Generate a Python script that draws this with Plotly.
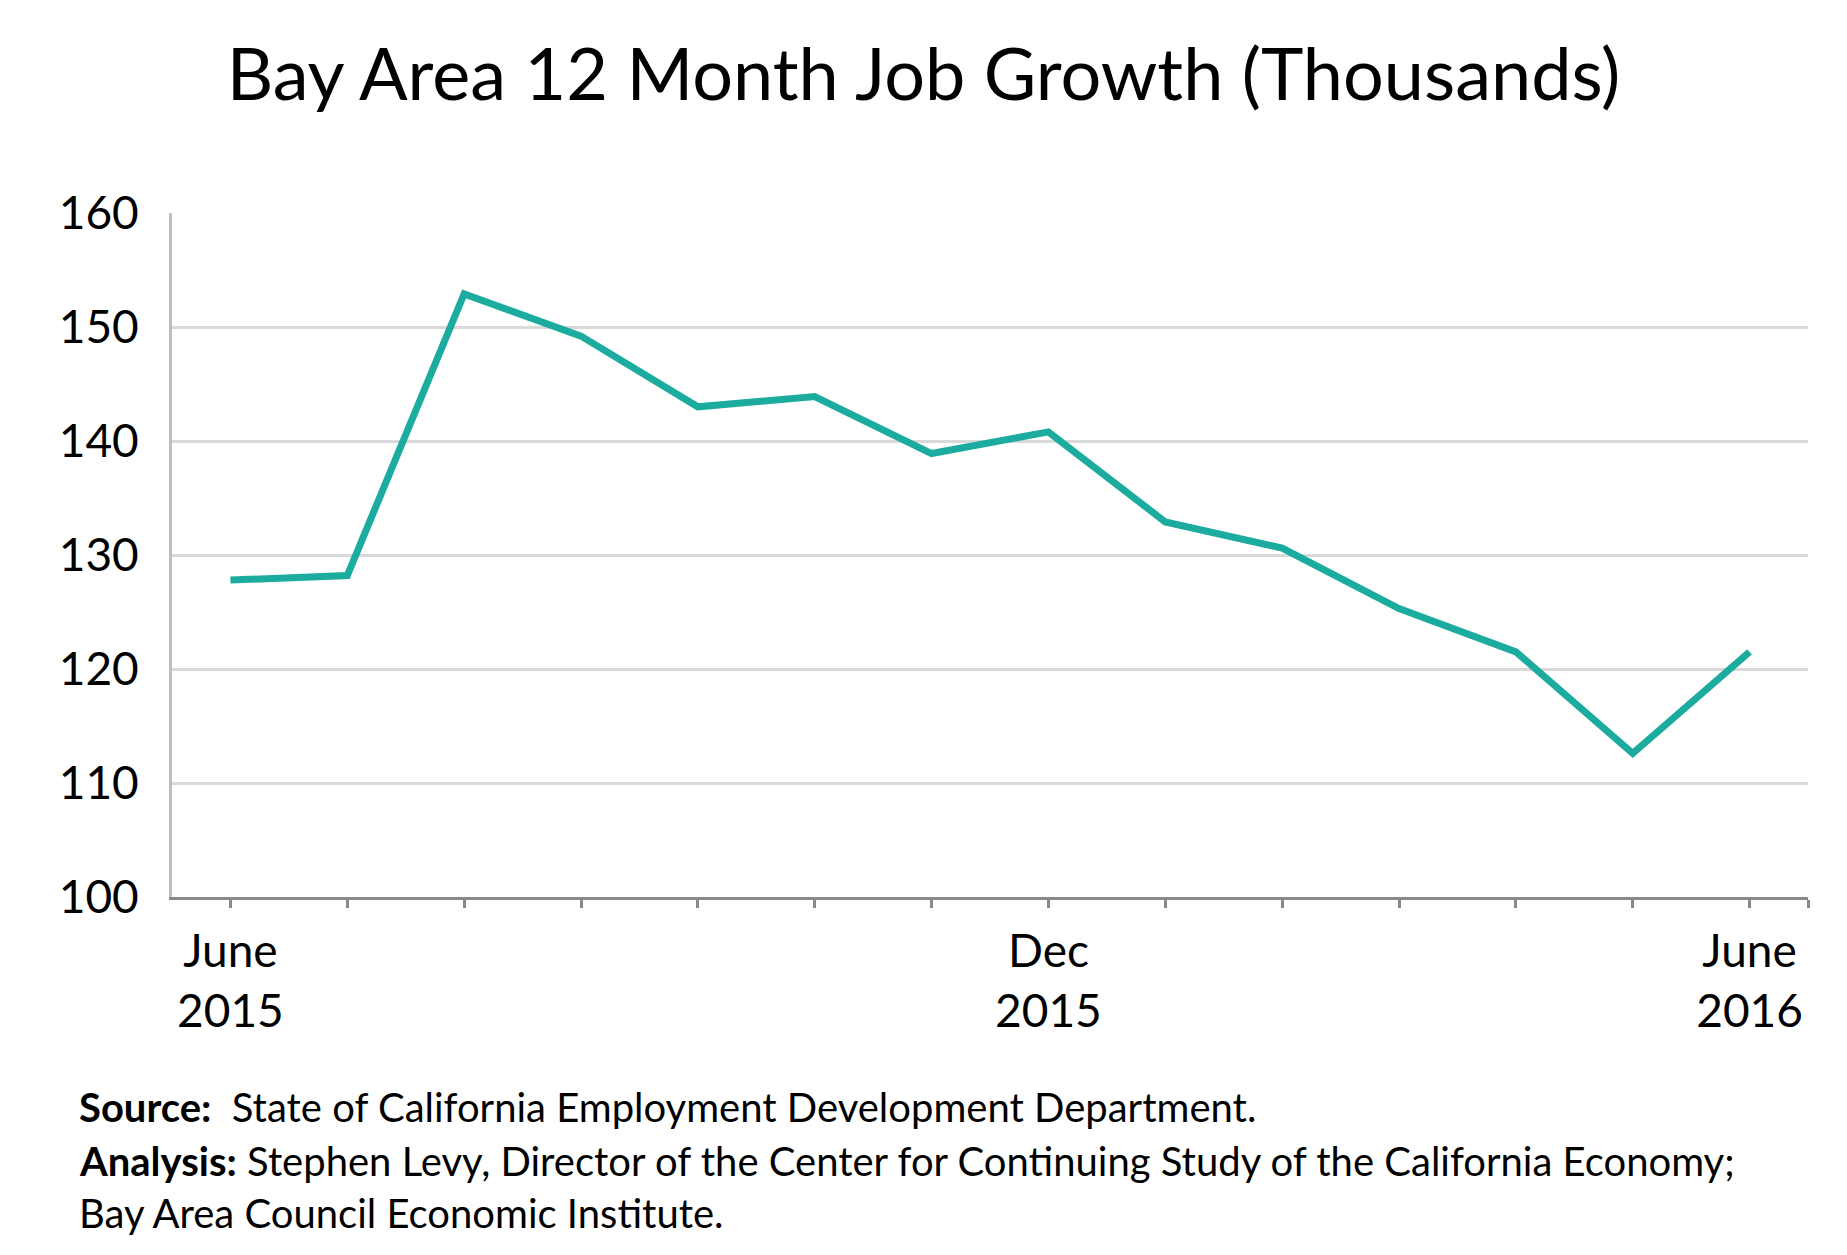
import plotly.graph_objects as go

# Data (thousands of jobs, 12-month growth)
month_index = [0, 1, 2, 3, 4, 5, 6, 7, 8, 9, 10, 11, 12, 13]
job_growth = [127.8, 128.2, 152.9, 149.2, 143.0, 143.9, 138.9, 140.8,
              132.9, 130.6, 125.3, 121.5, 112.6, 121.5]

tick_positions = [0, 1, 2, 3, 4, 5, 6, 7, 8, 9, 10, 11, 12, 13, 13.5]
tick_labels = ["June<br>2015", "", "", "", "", "", "", "Dec<br>2015",
               "", "", "", "", "", "June<br>2016", ""]

y_ticks = [100, 110, 120, 130, 140, 150, 160]

# page has an 8px body margin; the figure is sized to fill the rest of the window
OFF = 8
W, H = 1847 - OFF, 1255 - OFF
L, R, T, B = 164, 39, 205, 358
plot_h = H - T - B

def py(p):
    return (H - B - p) / plot_h

def px(p):
    return (p - L) / (W - L - R)

FONT = "Lato"

fig = go.Figure()
fig.add_trace(go.Scatter(
    x=month_index, y=job_growth, mode="lines",
    line=dict(color="#1BAC9F", width=7),
    hoverinfo="skip", showlegend=False,
))

fig.update_layout(
    width=W, height=H,
    margin=dict(l=L, r=R, t=T, b=B, autoexpand=False),
    paper_bgcolor="white", plot_bgcolor="white",
    title=dict(
        text="Bay Area 12 Month Job Growth (Thousands)",
        x=0.5 - OFF / (2 * W), xanchor="center", xref="container",
        y=1 - 67 / H, yanchor="middle", yref="container",
        font=dict(family=FONT, size=72, color="black"),
    ),
    xaxis=dict(
        range=[-0.5, 13.5], tickmode="array",
        tickvals=tick_positions, ticktext=tick_labels,
        showgrid=False, zeroline=False,
        showline=True, linecolor="#898989", linewidth=3,
        ticks="outside", ticklen=8, tickwidth=3, tickcolor="#898989",
        tickfont=dict(family=FONT, size=46, color="black"),
        ticklabelstandoff=4,
    ),
    yaxis=dict(
        range=[100, 160], tickmode="array", tickvals=y_ticks,
        showgrid=True, gridcolor="#D9D9D9", gridwidth=3,
        zeroline=False, showline=True, linecolor="#BFBFBF", linewidth=3,
        ticks="", tickfont=dict(family=FONT, size=46, color="black"),
        ticklabelstandoff=21,
    ),
)

foot_font = dict(family=FONT, size=40, color="black")
footnotes = [
    ("<b>Source:</b>  State of California Employment Development Department.", 1099),
    ("<b>Analysis:</b> Stephen Levy, Director of the Center for Continuing Study of the California Economy;", 1153),
    ("Bay Area Council Economic Institute.", 1205),
]
for text, ypix in footnotes:
    fig.add_annotation(
        text=text, xref="paper", yref="paper",
        x=px(69), y=py(ypix), xanchor="left", yanchor="middle",
        showarrow=False, font=foot_font, align="left",
    )

fig.write_html("out.html")
